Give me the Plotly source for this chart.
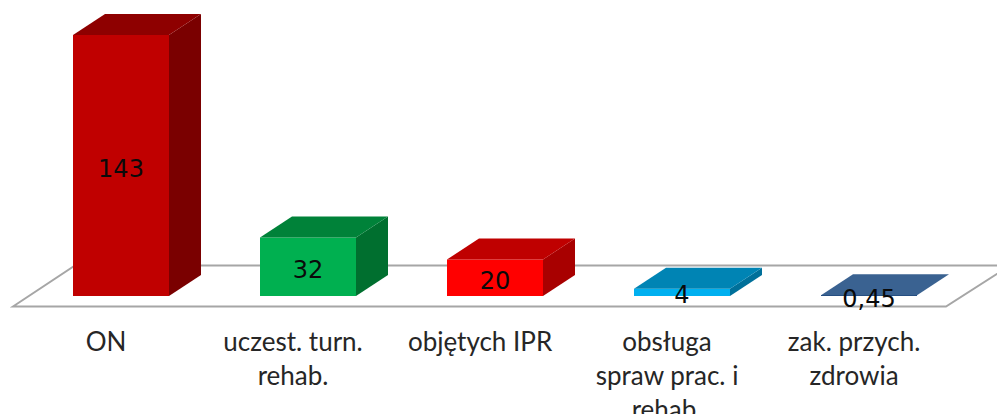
import plotly.graph_objects as go

categories = ["ON", "uczest. turn.<br>rehab.", "objętych IPR", "obsługa<br>spraw prac. i<br>rehab.", "zak. przych.<br>zdrowia"]
values = [143, 32, 20, 4, 0.45]
value_labels = ["143", "32", "20", "4", "0,45"]
front_colors = ["#C00000", "#00B050", "#FF0000", "#00B0F0", "#1F497D"]
top_colors = ["#8E0000", "#008239", "#BF0000", "#0084B4", "#3A6291"]
side_colors = ["#7A0000", "#006F2F", "#A80000", "#00709A", "#2F5480"]

W, H = 997, 414
X_STEP = 187.0      # px per category
Y_SCALE = 1.825     # px per value unit
X0_PX, Y0_PX = 121.0, 296.0
PLOT_BOTTOM = 314
BAR_W = 96 / X_STEP
DX = 32 / X_STEP
DY = 21 / Y_SCALE

xs = list(range(len(values)))
fig = go.Figure()

for i, v in zip(xs, values):
    l, r = i - BAR_W / 2, i + BAR_W / 2
    fig.add_trace(go.Scatter(x=[r, r + DX, r + DX, r, r], y=[0, DY, v + DY, v, 0],
                             mode="lines", fill="toself", fillcolor=side_colors[i],
                             line=dict(width=0), hoverinfo="skip", showlegend=False))
    fig.add_trace(go.Scatter(x=[l, l + DX, r + DX, r, l], y=[v, v + DY, v + DY, v, v],
                             mode="lines", fill="toself", fillcolor=top_colors[i],
                             line=dict(width=0), hoverinfo="skip", showlegend=False))

fig.add_trace(go.Bar(x=xs, y=values, width=BAR_W, marker=dict(color=front_colors, line=dict(width=0)),
                     hoverinfo="skip", showlegend=False))

label_y = [v / 2 - 2.8 for v in values]
fig.add_trace(go.Scatter(x=xs, y=label_y, mode="text", text=value_labels, textposition="middle center",
                         textfont=dict(family="DejaVu Sans", size=24, color="#0A0A0A"),
                         hoverinfo="skip", showlegend=False, cliponaxis=False))

# floor of the 3D plot
fy0, fy1 = -10.5 / Y_SCALE, 30.5 / Y_SCALE
fig.add_shape(type="path", layer="below",
              path=(f"M {(13-X0_PX)/X_STEP} {fy0} L {(75-X0_PX)/X_STEP} {fy1} "
                    f"L {(1010-X0_PX)/X_STEP} {fy1} L {(946-X0_PX)/X_STEP} {fy0} Z"),
              line=dict(color="#A6A6A6", width=2), fillcolor="white")

fig.update_layout(
    width=W, height=H, margin=dict(l=0, r=0, t=0, b=H - PLOT_BOTTOM),
    paper_bgcolor="white", plot_bgcolor="white", showlegend=False, barmode="overlay",
    xaxis=dict(range=[-X0_PX / X_STEP, (W - X0_PX) / X_STEP], tickvals=[i - 0.08 for i in xs],
               ticktext=categories, showgrid=False, zeroline=False, showline=False, ticks="",
               tickangle=0, ticklabelstandoff=10, automargin=False,
               tickfont=dict(family="Lato", size=26, color="#262626")),
    yaxis=dict(range=[(Y0_PX - PLOT_BOTTOM) / Y_SCALE, Y0_PX / Y_SCALE], visible=False),
)

fig.write_html("out.html", config={"displayModeBar": False},
               post_script="document.body.style.margin='0';document.body.style.overflow='hidden';")
